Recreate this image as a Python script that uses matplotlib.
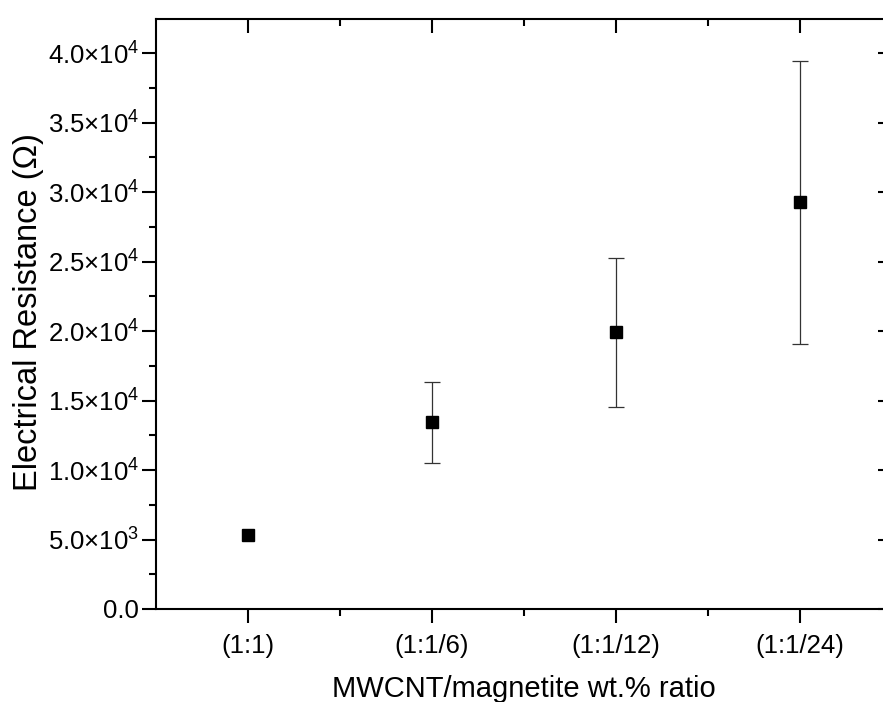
"""
Electrical resistance of MWCNT/magnetite composites vs. weight ratio.
"""

import matplotlib.pyplot as plt
from matplotlib.ticker import FixedLocator, FuncFormatter, MultipleLocator

plt.rcParams["font.family"] = ["Liberation Sans", "DejaVu Sans"]
plt.rcParams["mathtext.fontset"] = "custom"
plt.rcParams["mathtext.rm"] = "Liberation Sans"
plt.rcParams["mathtext.it"] = "Liberation Sans:italic"

ratios = ["(1:1)", "(1:1/6)", "(1:1/12)", "(1:1/24)"]
resistance = [5320, 13450, 19930, 29300]
err_low = [0, 2950, 5400, 10200]
err_high = [0, 2880, 5320, 10100]


def sci_label(val, pos):
    if val == 0:
        return "0.0"
    exp = 0
    m = val
    while abs(m) >= 10:
        m /= 10
        exp += 1
    return f"{m:.1f}×10$^{{{exp}}}$"


fig = plt.figure(figsize=(8.83, 7.02), dpi=100)
ax = fig.add_axes([156 / 883, 1 - 609 / 702, 736 / 883, 590 / 702])

x = list(range(1, len(ratios) + 1))

# only the points that actually have a spread get error bars
keep = [i for i in range(len(x)) if err_low[i] > 0 or err_high[i] > 0]
ax.errorbar([x[i] for i in keep], [resistance[i] for i in keep],
            yerr=[[err_low[i] for i in keep], [err_high[i] for i in keep]],
            fmt="none", ecolor="#333333", elinewidth=0.9, capsize=6,
            capthick=0.9, zorder=2)
ax.plot(x, resistance, linestyle="none", marker="s", markersize=8.5,
        color="black", zorder=3)

ax.set_xlim(0.5, 4.5)
ax.set_ylim(0, 42450)

ax.xaxis.set_major_locator(FixedLocator(x))
ax.xaxis.set_minor_locator(FixedLocator([1.5, 2.5, 3.5]))
ax.set_xticklabels(ratios)
ax.yaxis.set_major_locator(MultipleLocator(5000))
ax.yaxis.set_minor_locator(MultipleLocator(2500))
ax.yaxis.set_major_formatter(FuncFormatter(sci_label))

for side in ["left", "bottom", "top", "right"]:
    ax.spines[side].set_linewidth(1.5)

ax.tick_params(axis="both", which="major", length=10, width=1.5,
               labelsize=18.5, direction="out")
ax.tick_params(axis="both", which="minor", length=5, width=1.5, direction="out")
ax.tick_params(axis="x", which="both", top=True, pad=8)
ax.tick_params(axis="y", which="both", right=True, pad=2)
ax.tick_params(axis="x", which="major", labeltop=False)

# top and right ticks point inward
for t in ax.xaxis.get_major_ticks() + ax.xaxis.get_minor_ticks():
    t.tick2line.set_marker(3)
for t in ax.yaxis.get_major_ticks() + ax.yaxis.get_minor_ticks():
    t.tick2line.set_marker(0)

ax.set_xlabel("MWCNT/magnetite wt.% ratio", fontsize=21, labelpad=12)
ax.set_ylabel("Electrical Resistance (Ω)", fontsize=23.5)
ax.yaxis.set_label_coords(-0.152, 0.503)

fig.savefig("out.png", dpi=100)
